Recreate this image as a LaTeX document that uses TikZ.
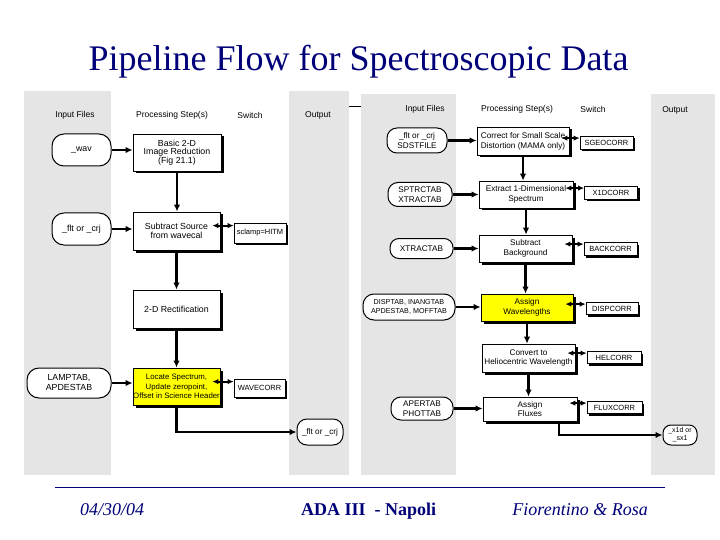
\documentclass[tikz,border=0pt]{standalone}
\usepackage{fontspec}
\setmainfont{Liberation Serif}
\newfontfamily\labfont{Liberation Sans}
\usetikzlibrary{arrows.meta,shadows,calc}
\definecolor{panel}{RGB}{229,229,229}
\definecolor{titleblue}{RGB}{0,0,120}
\definecolor{hl}{RGB}{255,255,0}
\tikzset{
  lbl/.style={font=\labfont\fontsize{8.2}{9.8}\selectfont, align=center, inner sep=0pt},
  lblL/.style={font=\labfont\fontsize{8.8}{9}\selectfont},
  hdr/.style={font=\labfont\fontsize{8.5}{9}\selectfont, inner sep=0pt},
  procbox/.style={lbl, draw, line width=0.8pt, fill=white,
    drop shadow={shadow xshift=2.5pt, shadow yshift=-2.5pt, fill=black, opacity=1}},
  swbox/.style={lbl, font=\labfont\fontsize{7.5}{8}\selectfont, draw, line width=0.8pt, fill=white,
    drop shadow={shadow xshift=2pt, shadow yshift=-2pt, fill=black, opacity=1}},
  term/.style={lbl, draw, line width=1pt, fill=white},
  flow/.style={line width=2.5pt, -{Latex[length=7pt,width=6.5pt]}},
  swflow/.style={line width=2pt, {Latex[length=6pt,width=5.5pt]}-{Latex[length=6pt,width=5.5pt]}},
}
\begin{document}
\begin{tikzpicture}[x=1pt,y=-1pt]
\useasboundingbox (0,0) rectangle (720,540);
% panels
\fill[panel] (24,91) rectangle (111,475);
\fill[panel] (289,91) rectangle (349,475);
\fill[panel] (361,94) rectangle (456,475);
\fill[panel] (651,94) rectangle (715,475);
\draw[line width=0.8pt] (349,106) -- (361,106);
% title
\node[anchor=base, font=\fontsize{36}{36}\selectfont, text=titleblue, inner sep=0pt] (title) at (358.5,71) {Pipeline Flow for Spectroscopic Data};
% headers left
\node[hdr] (hl1) at (75,115) {Input Files};
\node[hdr] (hl2) at (172,115) {Processing Step(s)};
\node[hdr] (hl3) at (250,115) {Switch};
\node[hdr] (hl4) at (318,115) {Output};
% headers right
\node[hdr] (hr1) at (425,109) {Input Files};
\node[hdr] (hr2) at (517,109) {Processing Step(s)};
\node[hdr] (hr3) at (593,109) {Switch};
\node[hdr] (hr4) at (675,110) {Output};
% left nodes
\node[term, lblL, rounded corners=12pt, minimum width=59pt, minimum height=32pt] (wav) at (81.5,150) {\_wav};
\node[procbox, lblL, font=\labfont\fontsize{8.8}{8.2}\selectfont, minimum width=88pt, minimum height=37pt] (b1) at (177,152.5) {Basic 2-D\\Image Reduction\\(Fig 21.1)};
\node[term, lblL, rounded corners=12pt, minimum width=59pt, minimum height=32pt] (flt) at (81.5,229) {\_flt or \_crj};
\node[procbox, lblL, minimum width=87pt, minimum height=38pt] (b2) at (176.5,231) {Subtract Source\\from wavecal};
\node[swbox, minimum width=52pt, minimum height=20pt] (s1) at (260,233) {sclamp=HITM};
\node[procbox, lblL, minimum width=87pt, minimum height=38pt] (b3) at (176.5,309) {2-D Rectification};
\node[term, lblL, font=\labfont\fontsize{8.8}{10}\selectfont, rounded corners=12pt, minimum width=84pt, minimum height=30pt] (lamp) at (69,383) {LAMPTAB,\\APDESTAB};
\node[procbox, fill=hl, font=\labfont\fontsize{7.8}{9.4}\selectfont, minimum width=87pt, minimum height=37pt] (b4) at (176.5,386.5) {Locate Spectrum,\\Update zeropoint,\\Offset in Science Header};
\node[swbox, minimum width=51pt, minimum height=18pt] (s2) at (259.5,388) {WAVECORR};
\node[term, rounded corners=10pt, minimum width=46pt, minimum height=26pt] (out1) at (320,432) {\_flt or \_crj};
% right nodes
\node[term, rounded corners=10pt, minimum width=60pt, minimum height=25pt] (r1) at (417,140.5) {\_flt or \_crj\\SDSTFILE};
\node[procbox, minimum width=92pt, minimum height=28pt] (c1) at (523,141) {Correct for Small Scale\\Distortion (MAMA only)};
\node[swbox, minimum width=53pt, minimum height=13pt] (sw1) at (606.5,143) {SGEOCORR};
\node[term, rounded corners=10pt, minimum width=64pt, minimum height=24pt] (r2) at (420,194.5) {SPTRCTAB\\XTRACTAB};
\node[procbox, minimum width=94pt, minimum height=27pt] (c2) at (526,194.5) {Extract 1-Dimensional\\Spectrum};
\node[swbox, minimum width=53pt, minimum height=13pt] (sw2) at (611,193) {X1DCORR};
\node[term, rounded corners=9pt, minimum width=63pt, minimum height=20pt] (r3) at (421.5,248.5) {XTRACTAB};
\node[procbox, minimum width=93pt, minimum height=27pt] (c3) at (525.5,248.5) {Subtract\\Background};
\node[swbox, minimum width=53pt, minimum height=13pt] (sw3) at (610.5,249) {BACKCORR};
\node[term, rounded corners=11pt, font=\labfont\fontsize{7.2}{9}\selectfont, minimum width=92pt, minimum height=26pt] (r4) at (409,307) {DISPTAB, INANGTAB\\APDESTAB, MOFFTAB};
\node[procbox, fill=hl, minimum width=92pt, minimum height=27pt] (c4) at (527,307.5) {Assign\\Wavelengths};
\node[swbox, minimum width=52pt, minimum height=12pt] (sw4) at (612,308.5) {DISPCORR};
\node[procbox, minimum width=93pt, minimum height=28pt] (c5) at (528.5,358) {Convert to\\Heliocentric Wavelength};
\node[swbox, minimum width=54pt, minimum height=12pt] (sw5) at (614,357.5) {HELCORR};
\node[term, rounded corners=10pt, minimum width=62pt, minimum height=23pt] (r5) at (422,408.5) {APERTAB\\PHOTTAB};
\node[procbox, minimum width=94pt, minimum height=24pt] (c6) at (530,409) {Assign\\Fluxes};
\node[swbox, minimum width=55pt, minimum height=12pt] (sw6) at (614.5,407.5) {FLUXCORR};
\node[term, rounded corners=8pt, font=\labfont\fontsize{7}{8}\selectfont, minimum width=34pt, minimum height=20pt] (out2) at (680,435) {\_x1d or\\\_sx1};
% left connectors
\draw[flow] (wav.east) -- (wav.east -| b1.west);
\draw[flow] (flt.east) -- (flt.east -| b2.west);
\draw[flow] (lamp.east) -- (lamp.east -| b4.west);
\draw[flow] (b1.south) -- (b1.south |- b2.north);
\draw[flow] (b2.south) -- (b2.south |- b3.north);
\draw[flow] (b3.south) -- (b3.south |- b4.north);
\draw[flow] (b4.south) |- (out1.west);
\coordinate (ka) at ($(s1.north west)+(0,3)$);
\draw[swflow] ($(ka -| b2.east)+(-8,0)$) -- (ka);
\coordinate (kb) at ($(s2.north west)+(0,3)$);
\draw[swflow] ($(kb -| b4.east)+(-8,0)$) -- (kb);
% right connectors
\draw[flow] (r1.east) -- (r1.east -| c1.west);
\draw[flow] (r2.east) -- (r2.east -| c2.west);
\draw[flow] (r3.east) -- (r3.east -| c3.west);
\draw[flow] (r4.east) -- (r4.east -| c4.west);
\draw[flow] (r5.east) -- (r5.east -| c6.west);
\draw[flow] (c1.south) -- (c1.south |- c2.north);
\draw[flow] (c2.south) -- (c2.south |- c3.north);
\draw[flow] (c3.south) -- (c3.south |- c4.north);
\draw[flow] (c4.south) -- (c4.south |- c5.north);
\draw[flow] (c5.south) -- (c5.south |- c6.north);
\draw[flow] ($(c6.south)+(29,0)$) |- (out2.west);
\coordinate (k1) at ($(sw1.north west)+(0,2)$);
\draw[swflow] ($(k1 -| c1.east)+(-8,0)$) -- (k1);
\coordinate (k2) at ($(sw2.north west)+(0,2)$);
\draw[swflow] ($(k2 -| c2.east)+(-8,0)$) -- (k2);
\coordinate (k3) at ($(sw3.north west)+(0,2)$);
\draw[swflow] ($(k3 -| c3.east)+(-8,0)$) -- (k3);
\coordinate (k4) at ($(sw4.north west)+(0,2)$);
\draw[swflow] ($(k4 -| c4.east)+(-8,0)$) -- (k4);
\coordinate (k5) at ($(sw5.north west)+(0,2)$);
\draw[swflow] ($(k5 -| c5.east)+(-8,0)$) -- (k5);
\coordinate (k6) at ($(sw6.north west)+(0,2)$);
\draw[swflow] ($(k6 -| c6.east)+(-8,0)$) -- (k6);
% footer
\draw[titleblue, line width=1pt] (55,487) -- (665,487);
\node[anchor=base west, inner sep=0pt, text=titleblue, font=\itshape\fontsize{18}{18}\selectfont] (fdate) at (80,515) {04/30/04};
\node[anchor=base west, inner sep=0pt, text=titleblue, font=\bfseries\fontsize{18}{18}\selectfont] (fconf) at (301,515) {ADA III \ - Napoli};
\node[anchor=base east, inner sep=0pt, text=titleblue, font=\itshape\fontsize{18}{18}\selectfont] (fauth) at (648,515) {Fiorentino \& Rosa};
\end{tikzpicture}
\end{document}
